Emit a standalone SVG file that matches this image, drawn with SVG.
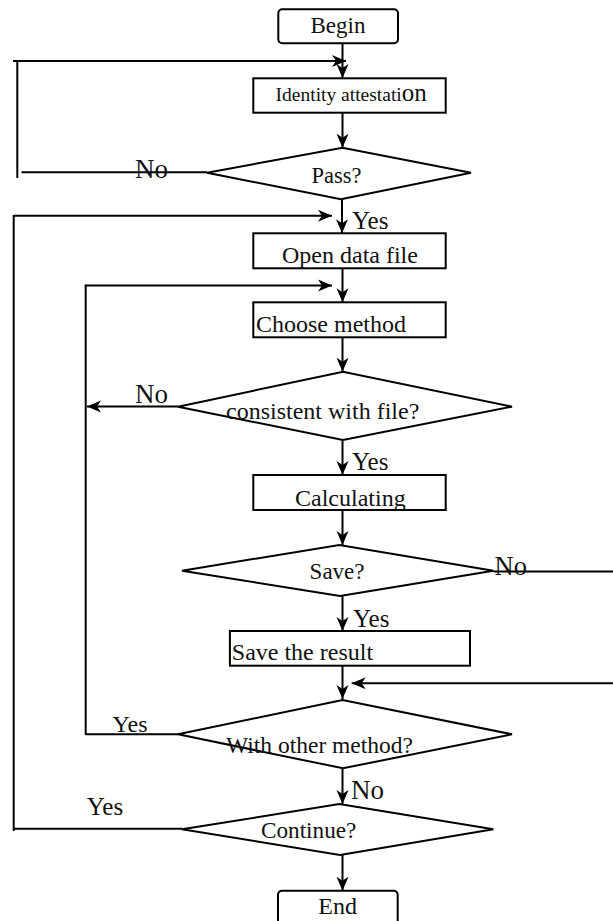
<svg xmlns="http://www.w3.org/2000/svg" width="613" height="921" viewBox="0 0 613 921">
<style>
.box{fill:#fff;stroke:#000;stroke-width:2}
.dia{fill:#fff;stroke:#000;stroke-width:2}
.ln{fill:none;stroke:#000;stroke-width:2}
.t{font-family:"Liberation Serif","Times New Roman",serif;fill:#111}
</style>
<defs>
<marker id="ah" markerUnits="userSpaceOnUse" markerWidth="16" markerHeight="14" viewBox="-14 -7 16 14" refX="0" refY="0" orient="auto">
<path d="M-14,-6 L0,0 L-14,6 L-10,0 Z" fill="#000"/>
</marker>
<clipPath id="c1"><rect x="200" y="380" width="260" height="40"/></clipPath>
<clipPath id="c2"><rect x="260" y="476" width="180" height="33"/></clipPath>
</defs>
<rect width="613" height="921" fill="#fff"/>
<g id="connectors">
<line class="ln" x1="342.5" y1="43" x2="342.5" y2="78" marker-end="url(#ah)"/>
<line class="ln" x1="13" y1="61" x2="346" y2="61" marker-end="url(#ah)"/>
<line class="ln" x1="17.3" y1="61" x2="17.3" y2="178"/>
<line class="ln" x1="21.5" y1="172.2" x2="207" y2="172.2"/>
<line class="ln" x1="342.5" y1="113" x2="342.5" y2="147.7" marker-end="url(#ah)"/>
<line class="ln" x1="342" y1="199.3" x2="342" y2="233.3" marker-end="url(#ah)"/>
<line class="ln" x1="13.7" y1="215.7" x2="332" y2="215.7" marker-end="url(#ah)"/>
<line class="ln" x1="13.7" y1="215" x2="13.7" y2="831"/>
<line class="ln" x1="13.7" y1="828.8" x2="182" y2="828.8"/>
<line class="ln" x1="342.5" y1="268.3" x2="342.5" y2="302.3" marker-end="url(#ah)"/>
<line class="ln" x1="85.7" y1="285.5" x2="332" y2="285.5" marker-end="url(#ah)"/>
<line class="ln" x1="85.7" y1="284.5" x2="85.7" y2="734.8"/>
<line class="ln" x1="85.7" y1="734.3" x2="178" y2="734.3"/>
<line class="ln" x1="342.5" y1="337.3" x2="342.5" y2="371.7" marker-end="url(#ah)"/>
<line class="ln" x1="178" y1="406.5" x2="87" y2="406.5" marker-end="url(#ah)"/>
<line class="ln" x1="342.5" y1="440" x2="342.5" y2="475" marker-end="url(#ah)"/>
<line class="ln" x1="342.5" y1="510" x2="342.5" y2="545" marker-end="url(#ah)"/>
<line class="ln" x1="493.4" y1="571.5" x2="613" y2="571.5"/>
<line class="ln" x1="342.5" y1="596" x2="342.5" y2="631" marker-end="url(#ah)"/>
<line class="ln" x1="613" y1="683.3" x2="351.7" y2="683.3" marker-end="url(#ah)"/>
<line class="ln" x1="342.5" y1="665.7" x2="342.5" y2="699" marker-end="url(#ah)"/>
<line class="ln" x1="342.5" y1="768.3" x2="342.5" y2="804" marker-end="url(#ah)"/>
<line class="ln" x1="342.5" y1="855" x2="342.5" y2="890.7" marker-end="url(#ah)"/>
</g>
<g id="begin">
<rect class="box" x="278.3" y="9.3" width="119.7" height="34" rx="4"/>
<text class="t" x="338" y="33.3" font-size="23" text-anchor="middle">Begin</text>
</g>
<g id="identity">
<rect class="box" x="253.3" y="78.3" width="192.4" height="34.4"/>
<text class="t" x="275.6" y="101" font-size="19.5">Identity attestati<tspan font-size="25">on</tspan></text>
</g>
<g id="pass">
<polygon class="dia" points="207,172.7 342.5,147.7 471,172.7 341,199.3"/>
<text class="t" x="311.6" y="182.7" font-size="22.5">Pass?</text>
<text class="t" x="135" y="178.3" font-size="27">No</text>
</g>
<text class="t" x="352" y="228.5" font-size="25">Yes</text>
<g id="open">
<rect class="box" x="253.3" y="233.3" width="192.4" height="35"/>
<text class="t" x="282" y="263.3" font-size="24">Open data file</text>
</g>
<g id="choose">
<rect class="box" x="253.3" y="302.3" width="192.4" height="35"/>
<text class="t" x="256" y="331.7" font-size="24">Choose method</text>
</g>
<g id="consistent">
<polygon class="dia" points="178,406.7 343,371.7 512,406.7 343,440"/>
<text class="t" x="226" y="419" font-size="24" clip-path="url(#c1)">consistent with file?</text>
<text class="t" x="135" y="402.7" font-size="27">No</text>
</g>
<text class="t" x="352" y="469.5" font-size="25">Yes</text>
<g id="calc">
<rect class="box" x="253.3" y="475" width="192.4" height="35"/>
<text class="t" x="295" y="505.5" font-size="24" clip-path="url(#c2)">Calculating</text>
</g>
<g id="save">
<polygon class="dia" points="182,570.7 339.3,545 493.4,570.7 340,596"/>
<text class="t" x="309.6" y="579.3" font-size="23">Save?</text>
<text class="t" x="494.5" y="575" font-size="26.5">No</text>
</g>
<text class="t" x="353" y="626.7" font-size="25">Yes</text>
<g id="saveresult">
<rect class="box" x="229.9" y="631" width="240.1" height="34.7"/>
<text class="t" x="231.8" y="660" font-size="24">Save the result</text>
</g>
<g id="other">
<polygon class="dia" points="178,734.3 342.5,700 512,734.3 343,768.3"/>
<text class="t" x="226" y="752.7" font-size="23.5">With other method?</text>
<text class="t" x="112.6" y="731.7" font-size="24">Yes</text>
</g>
<text class="t" x="351" y="799.3" font-size="27">No</text>
<g id="continue">
<polygon class="dia" points="182,829.3 339.3,804 493.4,829.3 340,855"/>
<text class="t" x="261" y="838.3" font-size="23.2">Continue?</text>
<text class="t" x="86.8" y="815" font-size="25">Yes</text>
</g>
<g id="end">
<rect class="box" x="278" y="890.7" width="119.7" height="40" rx="4"/>
<text class="t" x="318.3" y="914.3" font-size="24">End</text>
</g>
</svg>
